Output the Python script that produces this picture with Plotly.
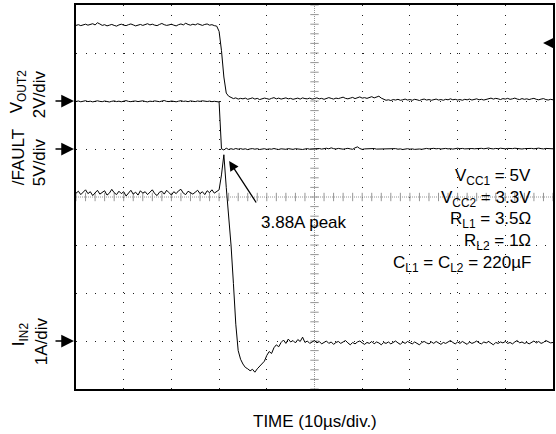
import plotly.graph_objects as go

# Scope capture, sampled every 0.5 us from 0 to 100 us (201 samples per channel)
SAMPLE_US = 0.5

# V_OUT2 (V), 2 V/div
vout2 = [
    3.15, 3.18, 3.14, 3.17, 3.20, 3.16, 3.19, 3.22, 3.17, 3.26,
    3.21, 3.15, 3.18, 3.13, 3.16, 3.19, 3.15, 3.12, 3.17, 3.20,
    3.16, 3.14, 3.18, 3.21, 3.17, 3.13, 3.16, 3.19, 3.15, 3.18,
    3.22, 3.17, 3.20, 3.16, 3.14, 3.19, 3.23, 3.18, 3.15, 3.17,
    3.20, 3.16, 3.13, 3.18, 3.21, 3.17, 3.24, 3.19, 3.16, 3.20,
    3.17, 3.22, 3.18, 3.15, 3.19, 3.21, 3.16, 3.18, 3.14, 3.12,
    2.90, 2.10, 1.00, 0.33, 0.20, 0.14, 0.10, 0.13, 0.08, 0.11,
    0.09, 0.12, 0.07, 0.10, 0.13, 0.08, 0.11, 0.06, 0.09, 0.12,
    0.10, 0.07, 0.11, 0.14, 0.09, 0.12, 0.08, 0.10, 0.13, 0.09,
    0.11, 0.07, 0.10, 0.12, 0.08, 0.13, 0.10, 0.09, 0.12, 0.08,
    0.10, 0.13, 0.09, 0.11, 0.07, 0.10, 0.14, 0.11, 0.08, 0.12,
    0.10, 0.13, 0.16, 0.11, 0.09, 0.12, 0.15, 0.10, 0.13, 0.17,
    0.12, 0.14, 0.11, 0.15, 0.18, 0.13, 0.16, 0.20, 0.12, 0.06,
    0.03, 0.05, 0.02, 0.06, 0.04, 0.07, 0.03, 0.05, 0.08, 0.04,
    0.06, 0.03, 0.07, 0.05, 0.02, 0.06, 0.08, 0.04, 0.06, 0.03,
    0.05, 0.08, 0.04, 0.06, 0.03, 0.07, 0.05, 0.09, 0.05, 0.07,
    0.04, 0.06, 0.03, 0.07, 0.05, 0.08, 0.04, 0.06, 0.09, 0.05,
    0.07, 0.04, 0.06, 0.10, 0.12, 0.08, 0.11, 0.09, 0.06, 0.10,
    0.08, 0.11, 0.07, 0.09, 0.12, 0.08, 0.06, 0.10, 0.07, 0.09,
    0.06, 0.09, 0.11, 0.07, 0.05, 0.08, 0.10, 0.06, 0.04, 0.07,
    0.05,
]

# /FAULT (V), 5 V/div
fault = [
    4.95, 5.00, 4.92, 4.97, 5.03, 4.94, 4.98, 4.91, 4.99, 5.02,
    4.96, 4.93, 5.00, 4.95, 4.90, 4.97, 5.01, 4.94, 4.98, 4.92,
    4.99, 5.04, 4.96, 4.93, 4.98, 5.00, 4.94, 4.97, 5.02, 4.95,
    4.91, 4.98, 4.95, 5.01, 4.97, 4.93, 4.99, 5.05, 4.96, 4.94,
    5.00, 4.95, 4.92, 4.98, 5.03, 4.96, 4.99, 4.93, 5.01, 4.97,
    4.94, 5.00, 4.96, 5.02, 4.98, 4.95, 4.99, 4.93, 4.97, 4.95,
    4.90, 0.02, -0.10, 0.08, -0.05, 0.03, -0.04, 0.05, -0.02, 0.04,
    -0.03, 0.02, -0.06, 0.01, 0.04, -0.02, 0.03, -0.05, 0.00, 0.03,
    -0.04, 0.01, -0.02, 0.05, -0.01, -0.05, 0.02, 0.00, -0.03, 0.04,
    0.01, -0.04, 0.03, -0.01, 0.02, -0.05, 0.00, 0.04, -0.02, 0.01,
    -0.03, 0.02, 0.05, -0.01, 0.03, 0.08, 0.02, 0.12, 0.04, 0.00,
    0.06, 0.02, -0.02, 0.03, 0.07, 0.01, -0.03, 0.12, 0.22, 0.05,
    -0.04, 0.01, 0.03, -0.02, 0.02, 0.05, -0.01, 0.00, -0.04, 0.02,
    0.00, -0.03, 0.02, -0.01, 0.04, -0.02, 0.01, -0.05, 0.00, 0.03,
    -0.02, 0.01, -0.04, 0.02, 0.00, -0.03, 0.03, 0.06, 0.01, 0.04,
    0.07, 0.02, 0.05, 0.00, 0.03, 0.06, 0.01, 0.04, -0.01, 0.05,
    0.08, 0.03, 0.06, 0.01, 0.04, 0.09, 0.05, 0.02, 0.06, 0.03,
    0.07, 0.02, 0.05, 0.10, 0.04, 0.01, 0.06, 0.03, 0.08, 0.04,
    0.02, 0.06, 0.01, 0.04, 0.08, 0.03, 0.05, 0.00, 0.04, 0.07,
    0.03, 0.06, 0.02, 0.05, 0.09, 0.04, 0.01, 0.06, 0.03, 0.05,
    0.02,
]

# I_IN2 (A), 1 A/div
iin2 = [
    3.08, 3.12, 3.05, 3.10, 3.15, 3.07, 3.11, 3.03, 3.09, 3.14,
    3.06, 3.10, 3.13, 3.04, 3.08, 3.16, 3.09, 3.05, 3.12, 3.07,
    3.11, 3.02, 3.09, 3.14, 3.06, 3.10, 3.04, 3.13, 3.08, 3.11,
    3.05, 3.09, 3.15, 3.07, 3.03, 3.10, 3.12, 3.06, 3.14, 3.09,
    3.04, 3.11, 3.07, 3.13, 3.16, 3.08, 3.05, 3.12, 3.09, 3.06,
    3.10, 3.14, 3.07, 3.11, 3.05, 3.13, 3.09, 3.15, 3.08, 3.12,
    3.15, 3.46, 3.88, 3.20, 2.60, 2.00, 1.20, 0.35, -0.20, -0.38,
    -0.48, -0.55, -0.58, -0.62, -0.59, -0.65, -0.58, -0.52, -0.46, -0.42,
    -0.30, -0.22, -0.26, -0.14, -0.08, -0.12, -0.03, 0.02, -0.05, 0.04,
    -0.02, 0.01, -0.04, 0.03, -0.01, 0.08, -0.03, 0.00, -0.05, -0.02,
    0.01, -0.04, -0.01, -0.06, -0.03, 0.00, -0.05, -0.02, -0.07, -0.03,
    -0.01, -0.05, -0.02, 0.01, -0.04, -0.08, -0.03, -0.06, -0.02, 0.00,
    -0.04, -0.07, -0.03, -0.05, -0.01, -0.06, -0.02, -0.04, -0.08, -0.03,
    -0.05, -0.02, -0.06, -0.03, 0.00, -0.04, -0.07, -0.02, -0.05, -0.01,
    -0.03, -0.06, -0.02, -0.05, -0.08, -0.03, -0.01, -0.04, -0.06, -0.02,
    -0.05, -0.01, -0.04, -0.07, -0.03, -0.05, -0.02, 0.01, -0.03, -0.06,
    -0.02, -0.05, -0.01, -0.04, -0.07, -0.02, -0.05, -0.03, 0.00, -0.04,
    -0.06, -0.02, -0.04, -0.01, -0.05, -0.08, -0.03, -0.05, -0.02, -0.04,
    -0.01, -0.05, -0.03, -0.06, -0.02, 0.01, -0.04, -0.02, -0.05, -0.03,
    -0.06, -0.02, 0.00, -0.04, -0.01, -0.05, -0.03, 0.01, -0.02, -0.04,
    -0.03,
]

PEAK_US, PEAK_A = 32.1, 3.75

params = [
    "V<sub>CC1</sub> = 5V",
    "V<sub>CC2</sub> = 3.3V",
    "R<sub>L1</sub> = 3.5Ω",
    "R<sub>L2</sub> = 1Ω",
    "C<sub>L1</sub> = C<sub>L2</sub> = 220µF",
]

FONT = "Liberation Sans, Arial, Helvetica, sans-serif"
W, H = 556, 434
L, R, T, B = 76, 1, 5, 45
PW, PH = W - L - R, H - T - B


def px(x, y):
    # pixel position -> paper coords
    return (x - L) / PW, (T + PH - y) / PH


fig = go.Figure()

# graticule center cross (gray with small ticks)
grid_gray = "rgb(150,150,150)"
cx = [2 * i for i in range(51)]
cy = [round(-1 + 0.2 * i, 1) for i in range(41)]
fig.add_trace(go.Scatter(x=[0, 100], y=[3, 3], mode="lines",
                         line=dict(color=grid_gray, width=1, dash="1px,1px"), hoverinfo="skip"))
fig.add_trace(go.Scatter(x=[50, 50], y=[-1, 7], mode="lines",
                         line=dict(color=grid_gray, width=1, dash="1px,1px"), hoverinfo="skip"))
fig.add_trace(go.Scatter(x=cx, y=[3] * len(cx), mode="markers",
                         marker=dict(symbol="line-ns", size=6, line=dict(color=grid_gray, width=1)),
                         hoverinfo="skip"))
fig.add_trace(go.Scatter(x=[50] * len(cy), y=cy, mode="markers",
                         marker=dict(symbol="line-ew", size=6, line=dict(color=grid_gray, width=1)),
                         hoverinfo="skip"))

trace_line = dict(color="black", width=1)
fig.add_trace(go.Scatter(y=vout2, x0=0, dx=SAMPLE_US, mode="lines", line=trace_line, yaxis="y2"))
fig.add_trace(go.Scatter(y=fault, x0=0, dx=SAMPLE_US, mode="lines", line=trace_line, yaxis="y3"))
fig.add_trace(go.Scatter(y=iin2, x0=0, dx=SAMPLE_US, mode="lines", line=trace_line, yaxis="y"))

ann = []
txt = dict(family=FONT, size=17, color="black")

# channel labels (rotated)
for label, x, y in [("V<sub>OUT2</sub>", 18, 92), ("2V/div", 39, 94),
                    ("/FAULT", 18, 157), ("5V/div", 39, 162),
                    ("I<sub>IN2</sub>", 20, 334), ("1A/div", 41, 341)]:
    xp, yp = px(x, y)
    ann.append(dict(xref="paper", yref="paper", x=xp, y=yp, text=label, textangle=-90,
                    showarrow=False, font=txt, xanchor="center", yanchor="middle"))

# ground markers
for yref in ["y2", "y3", "y"]:
    ann.append(dict(xref="paper", yref=yref, x=0, y=0, xshift=-2, text="", showarrow=True,
                    ax=-20, ay=0, arrowhead=2, arrowsize=1.7, arrowwidth=1.5, arrowcolor="black"))

# trigger marker on right
tx, ty = px(545, 43)
ann.append(dict(xref="paper", yref="paper", x=tx, y=ty, text="", showarrow=True,
                ax=10, ay=0, arrowhead=2, arrowsize=1.5, arrowwidth=1.5, arrowcolor="black"))

# peak callout
ann.append(dict(xref="x", yref="y", x=PEAK_US, y=PEAK_A, text="", showarrow=True,
                ax=28, ay=43, arrowhead=2, arrowsize=1.5, arrowwidth=1.3, arrowcolor="black"))
xp, yp = px(260, 222)
ann.append(dict(xref="paper", yref="paper", x=xp, y=yp, text="3.88A peak", showarrow=False,
                font=txt, xanchor="left", yanchor="middle"))

# test conditions
for i, p in enumerate(params):
    xp, yp = px(535, 177 + 21.7 * i)
    ann.append(dict(xref="paper", yref="paper", x=xp, y=yp, text=p, showarrow=False,
                    font=txt, xanchor="right", yanchor="middle"))

xp, yp = px(316, 421)
ann.append(dict(xref="paper", yref="paper", x=xp, y=yp, text="TIME (10µs/div.)", showarrow=False,
                font=txt, xanchor="center", yanchor="middle"))

grid = dict(showgrid=True, gridcolor="rgb(30,30,30)", gridwidth=1, griddash="1px,8.58px",
            showticklabels=False, ticks="", zeroline=False,
            showline=True, linecolor="black", linewidth=2, mirror=True)

fig.update_layout(
    width=W, height=H,
    margin=dict(l=L, r=R, t=T, b=B),
    plot_bgcolor="white", paper_bgcolor="white",
    showlegend=False,
    hovermode=False,
    xaxis=dict(range=[0, 100], tickvals=[10, 20, 30, 40, 60, 70, 80, 90], **grid),
    yaxis=dict(range=[-1, 7], tickvals=[0, 1, 2, 4, 5, 6], **grid),
    yaxis2=dict(range=[-12, 4], overlaying="y", visible=False),
    yaxis3=dict(range=[-25, 15], overlaying="y", visible=False),
    annotations=ann,
)

# drop the page's default body margin so the figure fills the window exactly
fig.write_html("out.html", config={"displayModeBar": False},
               post_script="document.body.style.margin = '0';")
